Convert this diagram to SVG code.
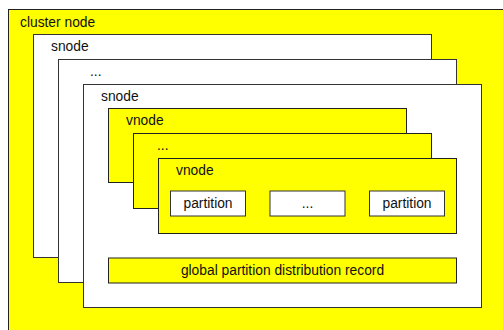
<svg xmlns="http://www.w3.org/2000/svg" width="503" height="330" viewBox="0 0 503 330">
<style>
.y{fill:#ffff00;stroke:#222;stroke-width:1}
.w{fill:#ffffff;stroke:#333;stroke-width:1}
text{font-family:"Liberation Sans",Arial,sans-serif;font-size:13.8px;fill:#111}
.c{text-anchor:middle}
</style>
<rect width="503" height="330" fill="#fff"/>
<g id="cluster"><rect class="y" x="8.5" y="9.5" width="500" height="330"/><text x="20" y="26.5">cluster node</text></g>
<g id="snode1"><rect class="w" x="33.5" y="34.5" width="398" height="223"/><text x="51" y="51">snode</text></g>
<g id="snode2"><rect class="w" x="58.5" y="59.5" width="398" height="223"/><text x="90" y="76">...</text></g>
<g id="snode3"><rect class="w" x="83.5" y="84.5" width="398" height="223"/><text x="101" y="100.5">snode</text></g>
<g id="vnode1"><rect class="y" x="108.5" y="108.5" width="298" height="74"/><text x="126" y="125">vnode</text></g>
<g id="vnode2"><rect class="y" x="133.5" y="133.5" width="298" height="75"/><text x="157" y="150">...</text></g>
<g id="vnode3"><rect class="y" x="158.5" y="158.5" width="298" height="75"/><text x="176" y="175">vnode</text></g>
<g id="partition1"><rect class="w" x="170.5" y="191" width="75" height="25"/><text class="c" x="208" y="207.5">partition</text></g>
<g id="partition2"><rect class="w" x="270" y="191" width="75" height="25"/><text class="c" x="307.5" y="207.5">...</text></g>
<g id="partition3"><rect class="w" x="369.5" y="191" width="75" height="25"/><text class="c" x="407" y="207.5">partition</text></g>
<g id="gpdr"><rect class="y" x="108.5" y="258" width="348" height="25"/><text class="c" x="282.5" y="275">global partition distribution record</text></g>
<g id="connectors"/>
</svg>
